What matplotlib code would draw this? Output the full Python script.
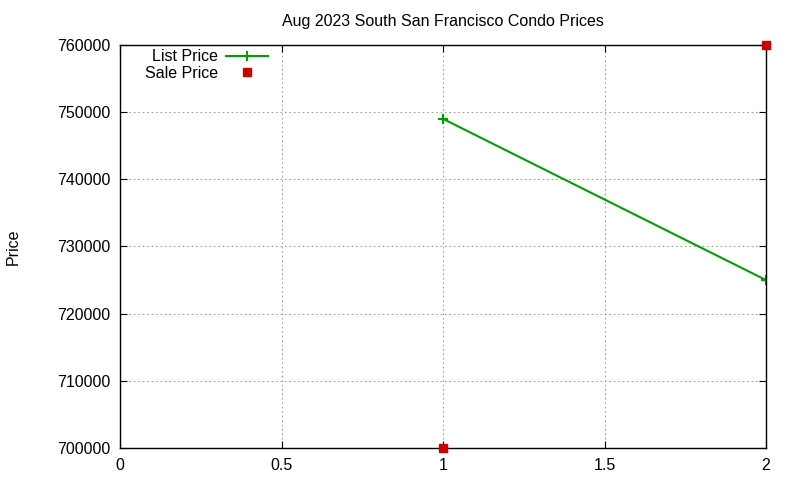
import matplotlib
matplotlib.use("Agg")
import matplotlib.pyplot as plt

list_x = [1, 2]
list_price = [749000, 725000]
sale_x = [1, 2]
sale_price = [700000, 760000]
title = "Aug 2023 South San Francisco Condo Prices"

plt.rcParams['font.family'] = ['Liberation Sans', 'DejaVu Sans']
fig = plt.figure(figsize=(8, 4.8), dpi=100)
ax = fig.add_axes([0.15, 0.0667, 0.8075, 0.8396])
ax.plot(list_x, list_price, color='#00a000', lw=1.5, marker='+', ms=7, mew=1.5, label='List Price')
ax.plot(sale_x, sale_price, ls='none', color='#cc0000', marker='s', ms=5.5, label='Sale Price', clip_on=False, zorder=5)
ax.set_xlim(0, 2)
ax.set_ylim(700000, 760000)
ax.set_xticks([0, 0.5, 1, 1.5, 2])
ax.set_xticklabels(['0', '0.5', '1', '1.5', '2'])
ax.set_yticks(range(700000, 760001, 10000))
ax.tick_params(direction='in', top=True, right=True, labelsize=11.5, length=5, pad=7)
ax.grid(True, color='#a0a0a0', ls=(0, (1.5, 2.5)), lw=0.8)
ax.set_ylabel('Price', fontsize=11.5)
ax.yaxis.set_label_coords(-0.154, 0.5)
ax.set_title(title, fontsize=11.5, pad=14)
for s in ax.spines.values():
    s.set_linewidth(1)
leg = ax.legend(loc='upper left', bbox_to_anchor=(0.024, 1.013), frameon=False, markerfirst=False,
                fontsize=11.5, handlelength=2.6, handletextpad=0.5, labelspacing=0.1, borderaxespad=0.2)
for t in leg.get_texts():
    t.set_ha('right')
fig.savefig('out.png', dpi=100)
